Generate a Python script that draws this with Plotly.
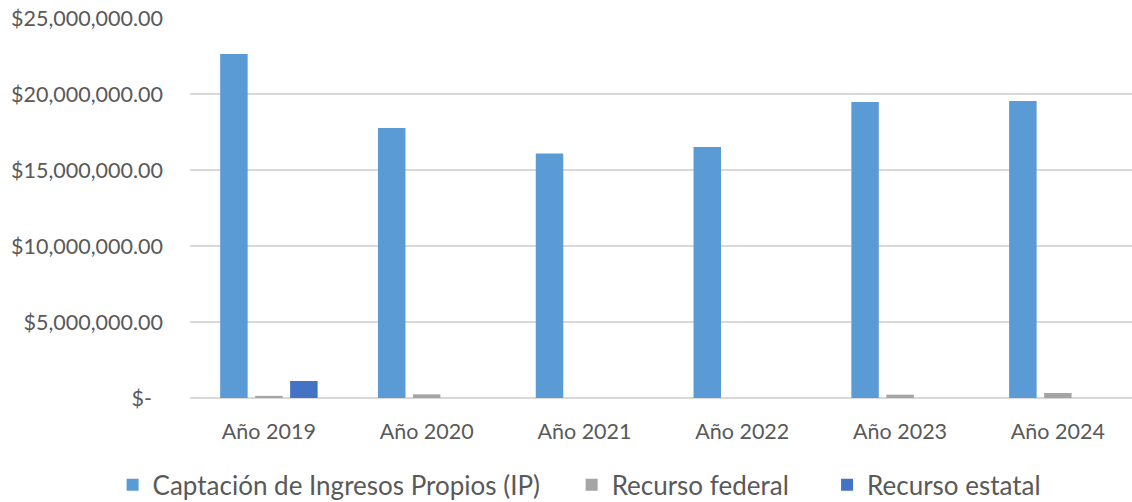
import plotly.graph_objects as go

# Categories and series values (MXN)
years = ["Año 2019", "Año 2020", "Año 2021", "Año 2022", "Año 2023", "Año 2024"]
ingresos_propios = [22630000, 17770000, 16080000, 16520000, 19480000, 19540000]
recurso_federal = [140000, 240000, 0, 0, 220000, 330000]
recurso_estatal = [1120000, 0, 0, 0, 0, 0]

tick_vals = [0, 5000000, 10000000, 15000000, 20000000, 25000000]
tick_text = ["$-\u00a0\u00a0", "$5,000,000.00", "$10,000,000.00", "$15,000,000.00",
             "$20,000,000.00", "$25,000,000.00"]

FONT = "Lato"
TEXT = "#595959"
PAD = "\u00a0"  # trailing padding widens the gap between legend entries

fig = go.Figure()
fig.add_trace(go.Bar(x=years, y=ingresos_propios,
                     name="Captación de Ingresos Propios (IP)" + PAD * 4,
                     marker=dict(color="#5B9BD5", line=dict(width=0))))
fig.add_trace(go.Bar(x=years, y=recurso_federal, name="Recurso federal" + PAD * 5,
                     marker=dict(color="#A5A5A5", line=dict(width=0))))
fig.add_trace(go.Bar(x=years, y=recurso_estatal, name="Recurso estatal",
                     marker=dict(color="#4472C4", line=dict(width=0))))

fig.update_layout(
    width=1132, height=502,
    margin=dict(l=190, r=0, t=18, b=104, autoexpand=False),
    paper_bgcolor="white", plot_bgcolor="white",
    barmode="group", bargap=0.335, bargroupgap=0.214,
    font=dict(family=FONT, color=TEXT),
    showlegend=True,
    legend=dict(orientation="h", xref="container", x=0.512, xanchor="center",
                yref="container", y=0.034, yanchor="middle",
                font=dict(family=FONT, size=26, color=TEXT), itemsizing="constant",
                traceorder="normal"),
    hovermode=False,
)
fig.update_xaxes(
    range=[-0.5, 5.47], showgrid=False, showline=False, zeroline=False,
    ticks="", tickfont=dict(family=FONT, size=21.5, color=TEXT), ticklabelstandoff=18,
)
fig.update_yaxes(
    range=[0, 25000000], tickvals=tick_vals, ticktext=tick_text,
    showgrid=True, gridcolor="#D9D9D9", gridwidth=1.5,
    zeroline=True, zerolinecolor="#D9D9D9", zerolinewidth=2,
    showline=False, ticks="", tickfont=dict(family=FONT, size=21.5, color=TEXT),
    ticklabelstandoff=26,
)

fig.write_html("out.html")
